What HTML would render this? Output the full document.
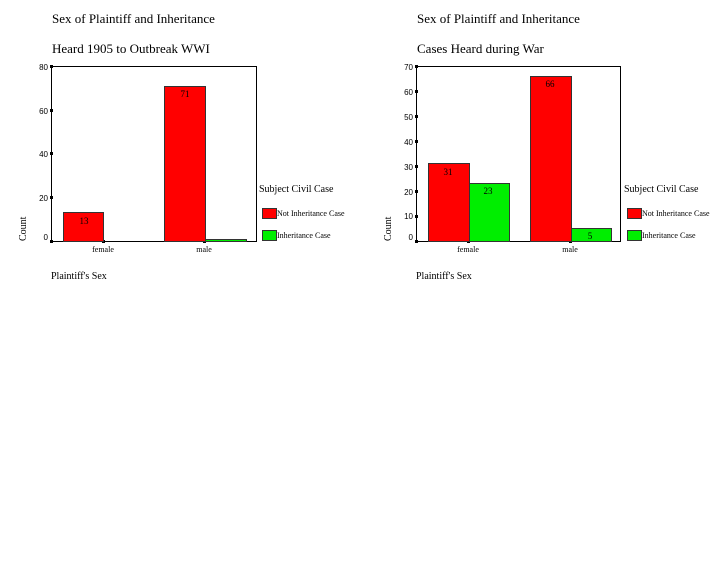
<!DOCTYPE html>
<html><head><style>body{margin:0;background:#fff}svg{display:block}</style></head><body>
<svg width="720" height="576" xmlns="http://www.w3.org/2000/svg" font-family="Liberation Serif, serif">
<rect width="720" height="576" fill="#fff"/>
<g font-size="13" fill="#000">
<text x="52" y="23">Sex of Plaintiff and Inheritance</text>
<text x="52" y="53">Heard 1905 to Outbreak WWI</text>
<text x="417" y="23">Sex of Plaintiff and Inheritance</text>
<text x="417" y="53">Cases Heard during War</text>
</g>
<!-- Chart 1 -->
<g>
<rect x="51.5" y="66.5" width="205" height="175" fill="none" stroke="#000" stroke-width="1"/>
<g font-family="Liberation Sans, sans-serif" font-size="8" text-anchor="end" fill="#000">
<text x="48" y="70">80</text><text x="48" y="114">60</text><text x="48" y="157">40</text><text x="48" y="201">20</text><text x="48" y="240">0</text>
</g>
<g fill="#000"><rect x="50" y="65" width="3" height="3"/><rect x="50" y="109" width="3" height="3"/><rect x="50" y="152" width="3" height="3"/><rect x="50" y="196" width="3" height="3"/><rect x="50" y="240" width="3" height="3"/><rect x="102" y="240" width="3" height="3"/><rect x="203" y="240" width="3" height="3"/></g>
<rect x="63.5" y="212.5" width="40" height="29" fill="#f00" stroke="#333"/>
<rect x="164.5" y="86.5" width="41" height="155" fill="#f00" stroke="#333"/>
<rect x="205.5" y="239.5" width="41" height="2" fill="#0e0" stroke="#333"/>
<g font-size="9" text-anchor="middle"><text x="84" y="224">13</text><text x="185" y="97">71</text>
<text x="103" y="252" font-size="8">female</text><text x="204" y="252" font-size="8">male</text></g>
<text x="26" y="241" font-size="10" transform="rotate(-90 26 241)">Count</text>
<text x="51" y="279" font-size="10">Plaintiff's Sex</text>
<text x="259" y="192" font-size="10">Subject Civil Case</text>
<rect x="262.5" y="208.5" width="14" height="10" fill="#f00" stroke="#333"/>
<rect x="262.5" y="230.5" width="14" height="10" fill="#0e0" stroke="#333"/>
<g font-size="8"><text x="277" y="216">Not Inheritance Case</text><text x="277" y="238">Inheritance Case</text></g>
</g>
<!-- Chart 2 -->
<g>
<rect x="416.5" y="66.5" width="204" height="175" fill="none" stroke="#000" stroke-width="1"/>
<g font-family="Liberation Sans, sans-serif" font-size="8" text-anchor="end" fill="#000">
<text x="413" y="70">70</text><text x="413" y="95">60</text><text x="413" y="120">50</text><text x="413" y="145">40</text><text x="413" y="170">30</text><text x="413" y="195">20</text><text x="413" y="219">10</text><text x="413" y="240">0</text>
</g>
<g fill="#000"><rect x="415" y="65" width="3" height="3"/><rect x="415" y="90" width="3" height="3"/><rect x="415" y="115" width="3" height="3"/><rect x="415" y="140" width="3" height="3"/><rect x="415" y="165" width="3" height="3"/><rect x="415" y="190" width="3" height="3"/><rect x="415" y="215" width="3" height="3"/><rect x="415" y="240" width="3" height="3"/><rect x="467" y="240" width="3" height="3"/><rect x="569" y="240" width="3" height="3"/></g>
<rect x="428.5" y="163.5" width="41" height="78" fill="#f00" stroke="#333"/>
<rect x="469.5" y="183.5" width="40" height="58" fill="#0e0" stroke="#333"/>
<rect x="530.5" y="76.5" width="41" height="165" fill="#f00" stroke="#333"/>
<rect x="571.5" y="228.5" width="40" height="13" fill="#0e0" stroke="#333"/>
<g font-size="9" text-anchor="middle"><text x="448" y="175">31</text><text x="488" y="194">23</text><text x="550" y="87">66</text><text x="590" y="239">5</text>
<text x="468" y="252" font-size="8">female</text><text x="570" y="252" font-size="8">male</text></g>
<text x="391" y="241" font-size="10" transform="rotate(-90 391 241)">Count</text>
<text x="416" y="279" font-size="10">Plaintiff's Sex</text>
<text x="624" y="192" font-size="10">Subject Civil Case</text>
<rect x="627.5" y="208.5" width="14" height="10" fill="#f00" stroke="#333"/>
<rect x="627.5" y="230.5" width="14" height="10" fill="#0e0" stroke="#333"/>
<g font-size="8"><text x="642" y="216">Not Inheritance Case</text><text x="642" y="238">Inheritance Case</text></g>
</g>
</svg>
</body></html>
